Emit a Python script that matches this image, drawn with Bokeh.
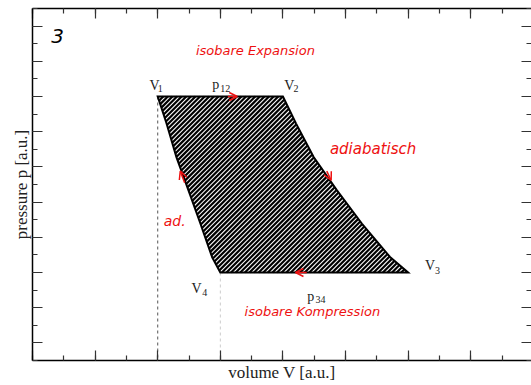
from bokeh.plotting import figure
from bokeh.models import (ColumnDataSource, FixedTicker, LinearAxis, Range1d,
                          Arrow, OpenHead, CustomJSTickFormatter)
from bokeh.core.properties import value
from bokeh.embed import file_html
from bokeh.resources import INLINE

# ---- data ----
p12 = 7.0
p34 = 2.0
V1, V2, V3, V4 = 2.0, 4.0, 6.0, 3.0
right_V = [4.0, 4.21, 4.49, 4.86, 5.26, 5.71, 6.0]
right_p = [7.0, 6.23, 5.28, 4.34, 3.39, 2.44, 2.0]
left_V = [3.0, 2.87, 2.68, 2.49, 2.30, 2.14, 2.0]
left_p = [2.0, 2.43, 3.40, 4.34, 5.27, 6.24, 7.0]

x_major = [0, 1, 2, 3, 4, 5, 6, 7, 8]
x_minor = [i * 0.5 for i in range(0, 17)]
y_major = [0, 1, 2, 3, 4, 5, 6, 7, 8, 9]
y_minor = [i * 0.5 - 0.5 for i in range(0, 21)]

lab_main = ["V", "p", "V", "V", "V", "p"]
lab_main_x = [1.87, 2.87, 4.02, 6.27, 2.54, 4.39]
lab_main_y = [7.30, 7.33, 7.30, 2.20, 1.55, 1.32]
lab_sub = ["1", "12", "2", "3", "4", "34"]
lab_sub_x = [2.0, 3.0, 4.17, 6.43, 2.71, 4.52]
lab_sub_y = [7.24, 7.22, 7.24, 2.06, 1.43, 1.24]

note_text = ["isobare Expansion", "adiabatisch", "ad.", "isobare Kompression"]
note_x = [3.56, 5.44, 2.27, 4.47]
note_y = [8.32, 5.50, 3.45, 0.89]
note_size = ["13px", "15px", "14px", "13px"]

arr_x0 = [3.12, 4.38, 4.70, 2.43]
arr_y0 = [7.0, 2.0, 4.88, 4.55]
arr_x1 = [3.27, 4.20, 4.77, 2.36]
arr_y1 = [7.0, 2.0, 4.62, 4.88]

# ---- layout ----
W, H = 531, 385
BL, BT, BB = 32, 8, 25
X0, X1 = 0.0, 7.97
Y0, Y1 = -0.5, 9.5

p = figure(width=W, height=H, output_backend="svg", toolbar_location=None,
           x_range=Range1d(X0, X1), y_range=Range1d(Y0, Y1),
           min_border_left=BL, min_border_right=0, min_border_top=BT,
           min_border_bottom=BB)
p.outline_line_color = None
p.xgrid.visible = False
p.ygrid.visible = False

p.add_layout(LinearAxis(), "above")
p.add_layout(LinearAxis(), "right")

for ax in p.xaxis:
    ax.ticker = FixedTicker(ticks=x_major, minor_ticks=x_minor)
for ax in p.yaxis:
    ax.ticker = FixedTicker(ticks=y_major, minor_ticks=y_minor)

for ax in p.axis:
    ax.formatter = CustomJSTickFormatter(code="return ''")
    ax.major_tick_in = 10
    ax.major_tick_out = 0
    ax.minor_tick_in = 5
    ax.minor_tick_out = 0
    ax.major_label_standoff = 0
    ax.axis_line_color = "black"
    ax.axis_line_width = 1.5
    ax.major_tick_line_color = "#333333"
    ax.minor_tick_line_color = "#333333"
    ax.major_tick_line_width = 1.2
    ax.minor_tick_line_width = 1.2
for ax in (p.above[0], p.right[0]):
    ax.major_label_text_font_size = "1px"

p.right[0].axis_line_color = None

p.below[0].axis_label = "volume V [a.u.]"
p.left[0].axis_label = "pressure p [a.u.]"
for ax in (p.below[0], p.left[0]):
    ax.axis_label_text_font = "Liberation Serif"
    ax.axis_label_text_font_size = "17px"
    ax.axis_label_text_font_style = "normal"
    ax.axis_label_text_color = "#222222"
    ax.axis_label_standoff = 2

p.segment(x0=[V1], y0=[p12], x1=[V1], y1=[Y0], line_color="#555555",
          line_dash="3 3", line_width=1)
p.segment(x0=[V4], y0=[p34], x1=[V4], y1=[Y0], line_color="#cccccc",
          line_dash="3 3", line_width=1)

# cycle polygon
cyc_x = [V1, V2] + right_V[1:] + [V4] + left_V[1:]
cyc_y = [p12, p12] + right_p[1:] + [p34] + left_p[1:]
p.patch(cyc_x, cyc_y, fill_color="white", line_color=None)

# hatching "/" at 45 degrees on screen, clipped to the polygon
sx = (W - BL) / (X1 - X0)
sy = (H - BT - BB) / (Y1 - Y0)
U = [x * sx for x in cyc_x]
Vv = [y * sy for y in cyc_y]
n = len(U)
cs = [v - u for u, v in zip(U, Vv)]
step = 4.6
c = min(cs) + step / 2
hx, hy = [], []
while c < max(cs):
    pts = []
    for i in range(n):
        u1, v1, u2, v2 = U[i], Vv[i], U[(i + 1) % n], Vv[(i + 1) % n]
        f1, f2 = v1 - u1 - c, v2 - u2 - c
        if (f1 < 0) != (f2 < 0):
            t = f1 / (f1 - f2)
            pts.append(u1 + t * (u2 - u1))
    pts.sort()
    for k in range(0, len(pts) - 1, 2):
        ua, ub = pts[k], pts[k + 1]
        hx.append([ua / sx, ub / sx])
        hy.append([(ua + c) / sy, (ub + c) / sy])
    c += step
p.multi_line(hx, hy, line_color="black", line_width=2.2)

p.patch(cyc_x, cyc_y, fill_color=None, line_color="black", line_width=2,
        line_join="miter")

src_main = ColumnDataSource(dict(x=lab_main_x, y=lab_main_y, t=lab_main))
p.text(x="x", y="y", text="t", source=src_main, text_font=value("Liberation Serif"),
       text_font_size="14px", text_color="#222222", text_align="left",
       text_baseline="alphabetic")
src_sub = ColumnDataSource(dict(x=lab_sub_x, y=lab_sub_y, t=lab_sub))
p.text(x="x", y="y", text="t", source=src_sub, text_font=value("Liberation Serif"),
       text_font_size="10px", text_color="#222222", text_align="left",
       text_baseline="alphabetic")

src_note = ColumnDataSource(dict(x=note_x, y=note_y, t=note_text, s=note_size))
p.text(x="x", y="y", text="t", source=src_note, text_font=value("DejaVu Sans"),
       text_font_style="italic", text_font_size="s", text_color="#ee1111",
       text_align="center", text_baseline="middle")
p.text(x=[0.40], y=[8.72], text=["3"], text_font=value("DejaVu Sans"),
       text_font_style="italic", text_font_size="20px", text_color="black",
       text_align="center", text_baseline="middle")

for xs, ys, xe, ye in zip(arr_x0, arr_y0, arr_x1, arr_y1):
    p.add_layout(Arrow(end=OpenHead(size=8, line_color="#ee1111", line_width=1.5),
                       x_start=xs, y_start=ys, x_end=xe, y_end=ye,
                       line_color="#ee1111", line_width=1.5))

open("out.html", "w").write(file_html(p, INLINE))
